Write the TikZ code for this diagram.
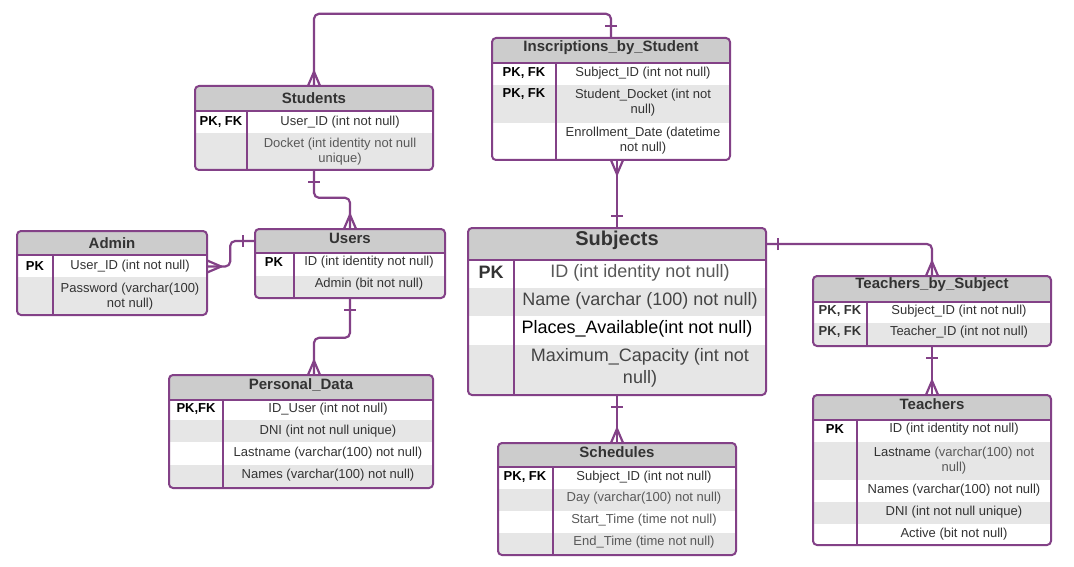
\documentclass[tikz,border=0pt]{standalone}
\usepackage{fontspec}
\setmainfont{Liberation Sans}
\usetikzlibrary{fit,calc}
\definecolor{erpurple}{HTML}{834187}
\definecolor{hdr}{HTML}{CCCCCC}
\definecolor{rowg}{HTML}{E6E6E6}
\definecolor{txt}{HTML}{333333}
\definecolor{txtl}{HTML}{595959}
\definecolor{txtm}{HTML}{444444}
\newcommand\ertable[8]{%
  \begin{scope}
    \clip[rounded corners=4pt] (#2,#3) rectangle (#4,#5);
    \fill[white] (#2,#3) rectangle (#4,#5);
    \fill[hdr] (#2,#3) rectangle (#4,#6);
    \foreach \ya/\yb in {#8} {\fill[rowg] (#2,\ya) rectangle (#4,\yb);}
  \end{scope}
  \draw[tline] (#2,#6) -- (#4,#6);
  \draw[tline] (#7,#6) -- (#7,#5);
  \draw[tline, rounded corners=4pt] (#2,#3) rectangle (#4,#5);
  \node[fit={(#2,#3)(#4,#5)}, inner sep=0pt] (#1) {};
  \coordinate (#1-h) at ({(#2+#4)/2},{(#3+#6)/2});
}
\tikzset{
  tline/.style={draw=erpurple, line width=2pt},
  conn/.style={draw=erpurple, line width=2.2pt, line join=round, rounded corners=5pt},
  ttl/.style={font=\bfseries\fontsize{15}{17}\selectfont, text=txt, inner sep=0pt, yshift=-1pt},
  keyt/.style={font=\bfseries\fontsize{13}{15}\selectfont, text=black, inner sep=0pt, yshift=-1.5pt},
  fld/.style={font=\fontsize{13}{15}\selectfont, text=txt, align=center, inner sep=0pt, yshift=-1.5pt},
  bigfld/.style={font=\fontsize{18}{22}\selectfont, text=txtm, align=center, inner sep=0pt, yshift=-1.5pt},
  crow/.pic={\draw[conn, rounded corners=0pt] (-6,0) -- (0,14) -- (6,0);},
  onebar/.pic={\draw[conn, rounded corners=0pt] (-6,12) -- (6,12);}
}
\begin{document}
\begin{tikzpicture}[x=1pt, y=-1pt]
\useasboundingbox (0,0) rectangle (1074,567);
\fill[white] (0,0) rectangle (1074,567);

% Students
\ertable{stu}{195}{86}{433}{170}{111}{247}{133/170}
\node[ttl] (stu-t) at (314,97) {Students};
\node[keyt] (stu-k1) at (221,121) {PK, FK};
\node[fld] (stu-f1) at (340,121) {User\_ID (int not null)};
\node[fld, text=txtl] (stu-f2) at (340,150) {Docket (int identity not null\\unique)};

% Inscriptions_by_Student
\ertable{ins}{492}{38}{730}{160}{63}{556}{85/123}
\node[ttl] (ins-t) at (611,47) {Inscriptions\_by\_Student};
\node[keyt] (ins-k1) at (524,72) {PK, FK};
\node[keyt] (ins-k2) at (524,93) {PK, FK};
\node[fld] (ins-f1) at (643,72) {Subject\_ID (int not null)};
\node[fld] (ins-f2) at (643,101) {Student\_Docket (int not\\null)};
\node[fld] (ins-f3) at (643,139) {Enrollment\_Date (datetime\\not null)};

% Admin
\ertable{adm}{17}{231}{207}{315}{255}{53}{277/315}
\node[ttl] (adm-t) at (112,242) {Admin};
\node[keyt] (adm-k) at (35,265) {PK};
\node[fld] (adm-f1) at (130,265) {User\_ID (int not null)};
\node[fld] (adm-f2) at (130,295) {Password (varchar(100)\\not null)};

% Users
\ertable{usr}{255}{229}{445}{298}{253}{294}{276/298}
\node[ttl] (usr-t) at (350,237) {Users};
\node[keyt] (usr-k) at (274,261) {PK};
\node[fld] (usr-f1) at (369,261) {ID (int identity not null)};
\node[fld] (usr-f2) at (369,283) {Admin (bit not null)};

% Personal_Data
\ertable{pd}{169}{375}{433}{488}{400}{223}{420/442,465/488}
\node[ttl] (pd-t) at (301,384) {Personal\_Data};
\node[keyt] (pd-k) at (196,408) {PK,FK};
\node[fld] (pd-f1) at (328,408) {ID\_User (int not null)};
\node[fld] (pd-f2) at (328,430) {DNI (int not null unique)};
\node[fld] (pd-f3) at (328,452) {Lastname (varchar(100) not null)};
\node[fld] (pd-f4) at (328,474) {Names (varchar(100) not null)};

% Subjects
\ertable{subj}{468}{228}{766}{395}{260}{514}{288/316,345/395}
\node[ttl, font=\bfseries\fontsize{20}{24}\selectfont] (subj-t) at (617,239) {Subjects};
\node[keyt, font=\bfseries\fontsize{18}{22}\selectfont, text=txt] (subj-k) at (491,271) {PK};
\node[bigfld, text=txtl] (subj-f1) at (640,271) {ID (int identity not null)};
\node[bigfld] (subj-f2) at (640,299) {Name (varchar (100) not null)};
\node[bigfld, text=black] (subj-f3) at (637,327) {Places\_Available(int not null)};
\node[bigfld] (subj-f4) at (640,366) {Maximum\_Capacity (int not\\null)};

% Teachers_by_Subject
\ertable{tbs}{813}{276}{1051}{346}{302}{867}{323/346}
\node[ttl] (tbs-t) at (932,284) {Teachers\_by\_Subject};
\node[keyt, text=txt] (tbs-k1) at (840,310) {PK, FK};
\node[keyt, text=txt] (tbs-k2) at (840,331) {PK, FK};
\node[fld] (tbs-f1) at (959,310) {Subject\_ID (int not null)};
\node[fld] (tbs-f2) at (959,331) {Teacher\_ID (int not null)};

% Teachers
\ertable{tch}{813}{395}{1051}{545}{420}{857}{442/480,502/524}
\node[ttl] (tch-t) at (932,403) {Teachers};
\node[keyt] (tch-k) at (835,428) {PK};
\node[fld] (tch-f1) at (954,428) {ID (int identity not null)};
\node[fld] (tch-f2) at (954,459) {Lastname {\color{txtl}(varchar(100) not}\\{\color{txtl}null)}};
\node[fld] (tch-f3) at (954,489) {Names (varchar(100) not null)};
\node[fld] (tch-f4) at (954,511) {DNI (int not null unique)};
\node[fld] (tch-f5) at (954,533) {Active (bit not null)};

% Schedules
\ertable{sch}{498}{443}{736}{555}{467}{553}{489/511,533/555}
\node[ttl] (sch-t) at (617,451) {Schedules};
\node[keyt] (sch-k) at (525,476) {PK, FK};
\node[fld] (sch-f1) at (644,476) {Subject\_ID (int not null)};
\node[fld, text=txtl] (sch-f2) at (644,497) {Day (varchar(100) not null)};
\node[fld, text=txtl] (sch-f3) at (644,519) {Start\_Time (time not null)};
\node[fld, text=txtl] (sch-f4) at (644,541) {End\_Time (time not null)};

% Connectors
% Students -- Inscriptions
\draw[conn] (stu.north) |- ([yshift=24pt]ins.north) -- (ins.north);
\pic[rotate=180] at (stu.north) {crow};
\pic[rotate=180] at (ins.north) {onebar};
% Students -- Users
\draw[conn] (stu.south) |- ([yshift=31pt]usr.north) -- (usr.north);
\pic at (stu.south) {onebar};
\pic[rotate=180] at (usr.north) {crow};
% Admin -- Users
\draw[conn] (adm.east |- adm-k) -- ++(23,0) |- (usr.west |- usr-h);
\pic[rotate=90] at (adm.east |- adm-k) {crow};
\pic[rotate=-90] at (usr.west |- usr-h) {onebar};
% Users -- Personal_Data
\draw[conn] (usr.south) |- ([xshift=13pt,yshift=37pt]pd.north) -- ([xshift=13pt]pd.north);
\pic at (usr.south) {onebar};
\pic[rotate=180] at ([xshift=13pt]pd.north) {crow};
% Inscriptions -- Subjects
\draw[conn] (subj.north |- ins.south) -- (subj.north);
\pic at (subj.north |- ins.south) {crow};
\pic[rotate=180] at (subj.north) {onebar};
% Subjects -- Teachers_by_Subject
\draw[conn] (subj.east |- subj-h) -| (tbs.north);
\pic[rotate=90] at (subj.east |- subj-h) {onebar};
\pic[rotate=180] at (tbs.north) {crow};
% Subjects -- Schedules
\draw[conn] (subj.south) -- (sch.north);
\pic at (subj.south) {onebar};
\pic[rotate=180] at (sch.north) {crow};
% Teachers_by_Subject -- Teachers
\draw[conn] (tbs.south) -- (tch.north);
\pic at (tbs.south) {onebar};
\pic[rotate=180] at (tch.north) {crow};
\end{tikzpicture}
\end{document}
